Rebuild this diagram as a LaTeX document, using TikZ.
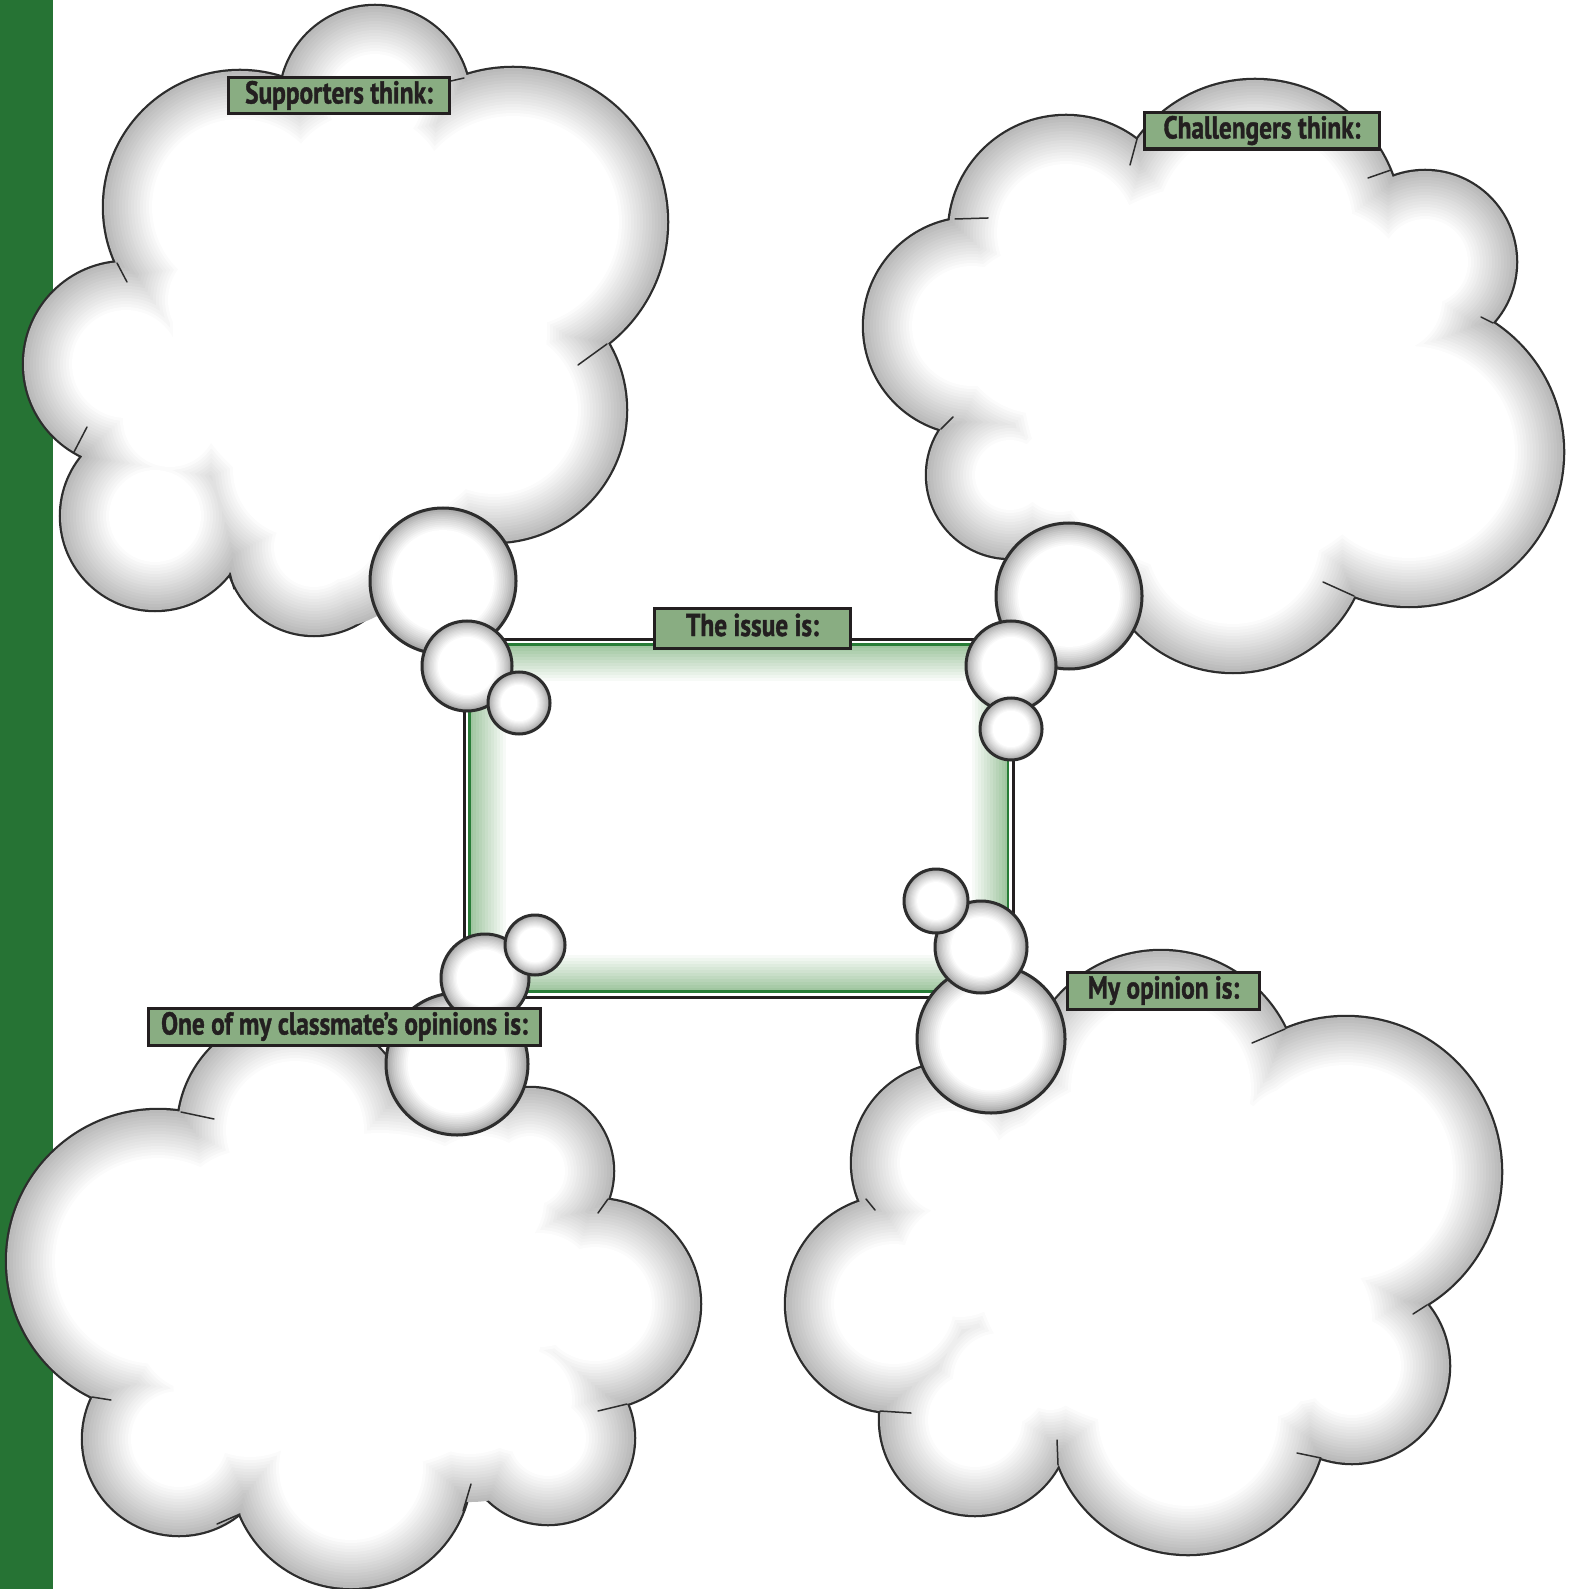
\documentclass[tikz,border=0pt]{standalone}
\usepackage{fontspec}
\newfontfamily\lblfont[FakeStretch=0.80, FakeBold=1.2]{PT Sans}
\definecolor{barGreen}{RGB}{38,115,52}
\definecolor{lblFill}{RGB}{137,173,130}
\definecolor{ink}{RGB}{35,31,32}
\definecolor{edgeGray}{RGB}{186,186,186}
\definecolor{bubGray}{RGB}{158,158,158}
\definecolor{lineGray}{RGB}{45,45,45}
\definecolor{frameGreen}{RGB}{40,125,55}
\definecolor{shadeGreen}{RGB}{160,198,160}
\tikzset{
  lbl/.style={draw=ink, line width=0.03cm, fill=lblFill, text=ink,
    font=\lblfont\bfseries\fontsize{9}{10}\selectfont, inner sep=0pt,
    text height=0.22cm, text depth=0.07cm},
  crease/.style={draw=lineGray, line width=0.015cm, line cap=round},
  outline/.style={draw=lineGray, line width=0.045cm},
  bubline/.style={draw=lineGray, line width=0.03cm},
}
% lobes (x/y/r): these make the outline
\def\cloudTL{375/101/95, 240/207/136, 513/222/154, 494/410/132, 314/547/88, 126/364/102, 155/516/94, 360/380/200}
\def\cloudTR{1255/226/146, 1066/233/117, 972/326/108, 1010/475/83, 1233/537/135, 1409/452/154, 1425/262/91, 1220/380/185, 1060/470/90}
\def\cloudBL{295/1130/117, 530/1171/83, 595/1304/105, 548/1438/86, 351/1468/120, 179/1439/96, 158/1261/151, 380/1300/200}
\def\cloudBR{1161/1089/138, 1346/1172/155, 1352/1366/97, 1188/1416/138, 975/1420/95, 894/1304/108, 952/1163/100, 1150/1250/200}
% inscribed interior disks (x/y/r) that only smooth the inner shading
\def\fillTL{360/330/235, 365/195/130, 300/470/115, 170/420/95, 220/300/100, 330/530/98}
\def\fillTR{1220/380/245, 1040/330/132, 1320/300/140, 1060/470/90, 1120/480/105, 1390/300/100}
\def\fillBL{380/1300/215, 480/1200/112, 470/1380/122, 250/1380/125, 250/1230/128, 540/1290/105, 200/1330/110, 520/1400/100}
\def\fillBR{1150/1250/225, 1040/1180/105, 1300/1150/112, 1270/1380/85, 1050/1380/78, 960/1260/105, 1290/1320/130, 1000/1380/95}
\newcommand\drawcloud[2]{%
  \foreach \cx/\cy/\rr in #1 {\draw[outline] (\cx,\cy) circle[radius=\rr];}%
  \foreach \kk in {0,...,16} {%
    \pgfmathsetmacro\tval{100*\kk/16}%
    \fill[white!\tval!edgeGray] \foreach \cx/\cy/\rr in #1 { (\cx,\cy) circle[radius=\rr-3*\kk] }
      \foreach \cx/\cy/\rr in #2 { (\cx,\cy) circle[radius=\rr-3*\kk] };%
  }%
}
\newcommand\bubble[3]{%
  \pgfmathsetmacro\bw{6+0.22*#3}%
  \foreach \kk in {0,...,12} {%
    \pgfmathsetmacro\tval{100*(\kk/12)^0.75}%
    \fill[white!\tval!bubGray] (#1,#2) circle[radius=#3-\bw*\kk/12];%
  }%
  \draw[bubline] (#1,#2) circle[radius=#3];%
}
\begin{document}
\begin{tikzpicture}[x=0.01cm, y=-0.01cm]
\useasboundingbox (0,0) rectangle (1579,1589);
\fill[white] (0,0) rectangle (1579,1589);
% green bar
\fill[barGreen] (0,0) rectangle (53,1589);
% clouds
\drawcloud{\cloudTL}{\fillTL}
\drawcloud{\cloudTR}{\fillTR}
\drawcloud{\cloudBL}{\fillBL}
\drawcloud{\cloudBR}{\fillBR}
% creases
\foreach \ax/\ay/\bx/\by in {607/344/578/365, 117/263/127/282, 74/452/87/427, 230/573/234/589, 464/78/451/81,
  1137/139/1130/165, 1391/170/1368/178, 955/219/988/218, 941/429/953/417, 1354/596/1323/582, 1493/323/1481/317,
  181/1112/214/1119, 608/1199/598/1213, 627/1404/598/1411, 463/1511/471/1484, 240/1514/217/1524, 92/1397/111/1400,
  1285/1029/1252/1043, 1427/1305/1413/1314, 1321/1458/1297/1453, 1058/1465/1057/1440, 880/1411/911/1413, 866/1199/875/1210}
  {\draw[crease] (\ax,\ay) -- (\bx,\by);}
% central frame
\foreach \kk in {0,...,12} {%
  \pgfmathsetmacro\tval{100*\kk/12}%
  \fill[white!\tval!shadeGreen] (470+3*\kk,645+3*\kk) rectangle (1008-3*\kk,991-3*\kk);%
}
\draw[frameGreen, line width=0.025cm] (469.5,644.5) rectangle (1008,991.5);
\draw[ink, line width=0.03cm] (464,639.5) rectangle (1013.5,997);
% bubbles
\bubble{443}{581}{73}
\bubble{467}{666}{45}
\bubble{519}{703}{31}
\bubble{1069}{596}{73}
\bubble{1011}{666}{45}
\bubble{1011}{729}{31}
\bubble{457}{1064}{71}
\bubble{485}{978}{44}
\bubble{535}{945}{30}
\bubble{991}{1039}{74}
\bubble{981}{947}{46}
\bubble{936}{901}{32}
% labels
\node[lbl, minimum width=2.20cm, minimum height=0.36cm] (sup) at (339,96) {Supporters think:};
\node[lbl, minimum width=2.34cm, minimum height=0.36cm] (chal) at (1262,131) {Challengers think:};
\node[lbl, minimum width=1.95cm, minimum height=0.39cm] (issue) at (752.5,628.5) {The issue is:};
\node[lbl, minimum width=1.91cm, minimum height=0.36cm] (mine) at (1163.5,991) {My opinion is:};
\node[lbl, minimum width=3.91cm, minimum height=0.36cm] (mate) at (344.5,1027) {One of my classmate’s opinions is:};
\end{tikzpicture}
\end{document}
